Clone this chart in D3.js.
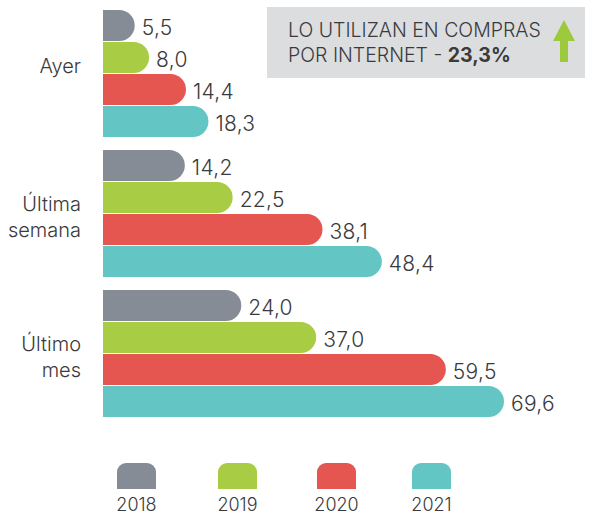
<!DOCTYPE html>
<html><head><meta charset="utf-8">
<script src="https://cdn.jsdelivr.net/npm/d3@7"></script>
<style>
html,body{margin:0;padding:0;background:#fff;}
svg{display:block;font-family:Inter,Roboto,"Helvetica Neue",Arial,sans-serif;}
</style></head>
<body><svg id="chart" width="592" height="516"></svg>
<script>
const categories = [["Ayer"], ["Última", "semana"], ["Último", "mes"]];
const categoryKeys = ["Ayer", "Última semana", "Último mes"];
const years = ["2018", "2019", "2020", "2021"];
const colors = ["#858c96", "#a8cd45", "#e55651", "#63c5c4"];
const values2018 = [5.5, 14.2, 24.0];
const values2019 = [8.0, 22.5, 37.0];
const values2020 = [14.4, 38.1, 59.5];
const values2021 = [18.3, 48.4, 69.6];
const seriesValues = [values2018, values2019, values2020, values2021];
const boxLine1 = "LO UTILIZAN EN COMPRAS";
const boxLine2a = "POR INTERNET - ";
const boxLine2b = "23,3%";

const svg = d3.select("#chart");
const textColor = "#3a3a3c";

const x = d3.scaleLinear().domain([0, 69.6]).range([103, 504]);
const y0 = d3.scaleBand().domain(categoryKeys).range([10, 418]).paddingInner(12/140).paddingOuter(0);
const y1 = d3.scaleBand().domain(years).range([0, y0.bandwidth()]);

function barPath(x0, yTop, w, h) {
  const r = Math.min(h / 2, w);
  return `M${x0},${yTop}H${x0 + w - r}A${r},${r} 0 0 1 ${x0 + w},${yTop + r}` +
    `V${yTop + h - r}A${r},${r} 0 0 1 ${x0 + w - r},${yTop + h}H${x0}Z`;
}

const fmt = v => v.toFixed(1).replace(".", ",");

categoryKeys.forEach((cat, ci) => {
  const g = svg.append("g").attr("transform", `translate(0,${y0(cat)})`);
  years.forEach((yr, si) => {
    const v = seriesValues[si][ci];
    const yt = y1(yr);
    const h = y1.bandwidth() - 1;
    g.append("path")
      .attr("d", barPath(x(0), yt, x(v) - x(0), h))
      .attr("fill", colors[si]);
    g.append("text")
      .attr("x", x(v) + 7)
      .attr("y", yt + h / 2 + 9)
      .attr("font-size", 21)
      .attr("font-weight", 300)
      .attr("letter-spacing", 0.3)
      .attr("fill", textColor)
      .text(fmt(v));
  });
  const lines = categories[ci];
  const cy = y0(cat) + y0.bandwidth() / 2;
  const first = lines.length === 1 ? cy - 1 : cy - 3;
  lines.forEach((ln, li) => {
    svg.append("text")
      .attr("x", 81)
      .attr("y", first + li * 25.5)
      .attr("text-anchor", "end")
      .attr("font-size", 20)
      .attr("font-weight", 300)
      .attr("fill", textColor)
      .text(ln);
  });
});

// info box
svg.append("rect").attr("x", 267).attr("y", 7).attr("width", 318).attr("height", 71).attr("fill", "#dcdddf");
svg.append("text").attr("x", 288).attr("y", 37).attr("font-size", 19.5).attr("font-weight", 300)
  .attr("fill", textColor).text(boxLine1);
const t2 = svg.append("text").attr("x", 288).attr("y", 62).attr("font-size", 19.5).attr("font-weight", 300).attr("fill", textColor);
t2.append("tspan").text(boxLine2a);
t2.append("tspan").attr("font-weight", 700).text(boxLine2b);
// arrow
svg.append("path")
  .attr("d", "M564,20 L575,41 L568,41 L568,62 L560,62 L560,41 L553,41 Z")
  .attr("fill", "#9dc93c");

// legend
const legendX = [117, 218, 317, 412];
years.forEach((yr, i) => {
  const lx = legendX[i], ly = 463, w = 39, h = 26, r = 9;
  svg.append("path")
    .attr("d", `M${lx},${ly + h}V${ly + r}A${r},${r} 0 0 1 ${lx + r},${ly}H${lx + w - r}A${r},${r} 0 0 1 ${lx + w},${ly + r}V${ly + h}Z`)
    .attr("fill", colors[i]);
  svg.append("text")
    .attr("x", lx + w / 2)
    .attr("y", 511)
    .attr("text-anchor", "middle")
    .attr("font-size", 18)
    .attr("font-weight", 300)
    .attr("fill", textColor)
    .text(yr);
});
</script></body></html>
